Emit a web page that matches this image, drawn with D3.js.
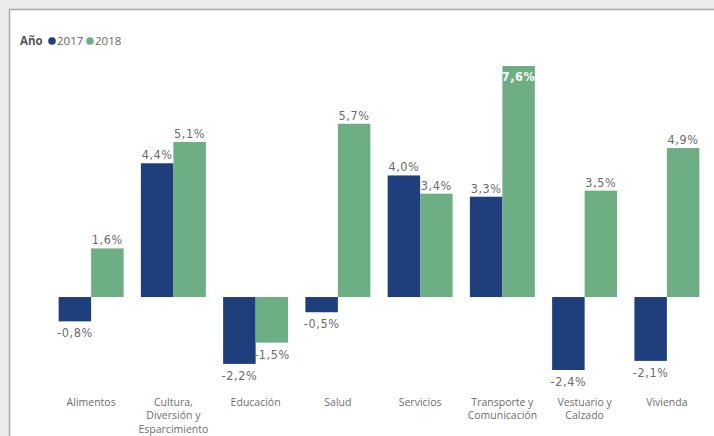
<!DOCTYPE html>
<html>
<head>
<meta charset="utf-8">
<script src="https://cdn.jsdelivr.net/npm/d3@7"></script>
<style>
  html, body { margin: 0; padding: 0; background: #ececec; }
  svg { display: block; }
</style>
</head>
<body>
<svg id="chart" width="714" height="436"></svg>
<script>
// Variación anual por categoría, 2017 vs 2018 (en %)
const categories = [
  ["Alimentos"],
  ["Cultura,", "Diversión y", "Esparcimiento"],
  ["Educación"],
  ["Salud"],
  ["Servicios"],
  ["Transporte y", "Comunicación"],
  ["Vestuario y", "Calzado"],
  ["Vivienda"]
];
const years = ["2017", "2018"];
const values2017 = [-0.8, 4.4, -2.2, -0.5, 4.0, 3.3, -2.4, -2.1];
const values2018 = [1.6, 5.1, -1.5, 5.7, 3.4, 7.6, 3.5, 4.9];
const colors = ["#1f3e7c", "#6dae84"];

const svg = d3.select("#chart");
const W = 714, H = 436;

// Panel de fondo
svg.append("rect").attr("x", 9.5).attr("y", 9.5).attr("width", W).attr("height", H)
  .attr("fill", "#ffffff").attr("stroke", "#a8a8a8").attr("stroke-width", 1.5);

const rows = categories.map((c, i) => ({ key: i, label: c, v: [values2017[i], values2018[i]] }));

const x0 = d3.scaleBand().domain(d3.range(categories.length)).range([50, 708]).paddingInner(0.21).paddingOuter(0.105);
const x1 = d3.scaleBand().domain(years).range([0, x0.bandwidth()]);
const y = d3.scaleLinear().domain([-2.4, 7.6]).range([370, 66]);

const fmt = v => d3.format(".1f")(v).replace(".", ",").replace("\u2212", "-") + "%";

// Leyenda
const leg = svg.append("g").attr("font-family", "'Open Sans', sans-serif").attr("font-size", 11.5);
leg.append("text").attr("x", 20).attr("y", 45).attr("font-weight", "bold").attr("fill", "#555").text("Año");
let lx = 52;
years.forEach((yr, i) => {
  leg.append("circle").attr("cx", lx).attr("cy", 41).attr("r", 3.8).attr("fill", colors[i]);
  leg.append("text").attr("x", lx + 5).attr("y", 45).attr("fill", "#666").text(yr);
  lx += 38;
});

// Barras
const groups = svg.append("g").selectAll("g").data(rows).join("g")
  .attr("transform", d => `translate(${x0(d.key)},0)`);

groups.selectAll("rect").data(d => d.v.map((v, i) => ({ v, i }))).join("rect")
  .attr("x", d => x1(years[d.i]))
  .attr("width", x1.bandwidth())
  .attr("y", d => y(Math.max(0, d.v)))
  .attr("height", d => Math.abs(y(d.v) - y(0)))
  .attr("fill", d => colors[d.i]);

// Etiquetas de valor
const maxV = d3.max(values2018.concat(values2017));
groups.selectAll("text.val").data(d => d.v.map((v, i) => ({ v, i }))).join("text")
  .attr("class", "val")
  .attr("x", d => x1(years[d.i]) + x1.bandwidth() / 2)
  .attr("y", d => {
    if (d.v === maxV) return y(d.v) + 15;
    return d.v >= 0 ? y(d.v) - 4 : y(d.v) + 16;
  })
  .attr("text-anchor", "middle")
  .attr("font-family", "'DejaVu Sans Condensed', sans-serif")
  .attr("font-size", 12.5)
  .attr("letter-spacing", 0.6)
  .attr("font-weight", d => d.v === maxV ? "bold" : "normal")
  .attr("fill", d => d.v === maxV ? "#ffffff" : "#6b6b6b")
  .text(d => fmt(d.v));

// Eje de categorías
groups.append("text")
  .attr("x", x0.bandwidth() / 2)
  .attr("y", 405.5)
  .attr("text-anchor", "middle")
  .attr("font-family", "'Open Sans', sans-serif")
  .attr("font-size", 10.5)
  .attr("fill", "#6e6e6e")
  .selectAll("tspan").data(d => d.label).join("tspan")
  .attr("x", x0.bandwidth() / 2)
  .attr("dy", (d, i) => i === 0 ? 0 : 13.5)
  .text(d => d);
</script>
</body>
</html>
